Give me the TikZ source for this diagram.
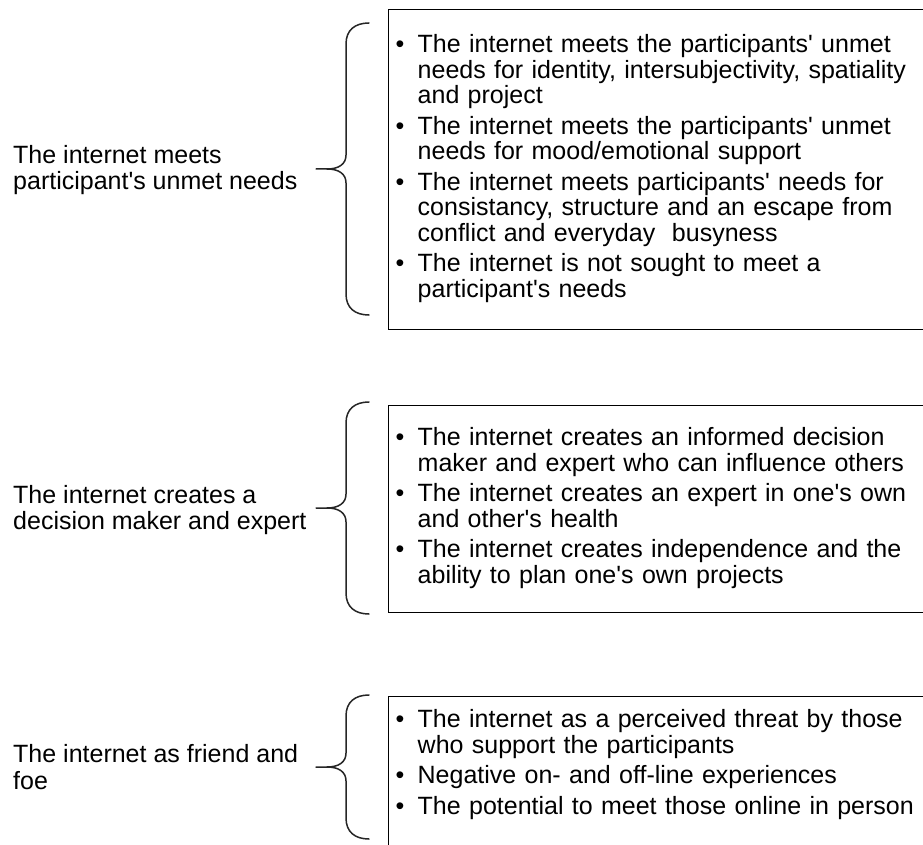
\documentclass[tikz,border=0pt]{standalone}
\usepackage{fontspec}
\setmainfont{Liberation Sans}[Ligatures=TeXOff]
\usepackage{array}

% left-hand curly brace: #1 x of the two ends, #2 top end, #3 bottom end
\newcommand{\curlybrace}[3]{%
  \draw[bracestroke] (#1,#2) .. controls (#1-14,#2) and (#1-23,#2+7) .. (#1-23,#2+21)
    -- (#1-23,{(#2+#3)/2-14}) .. controls (#1-23,{(#2+#3)/2-5}) and (#1-30,{(#2+#3)/2}) .. (#1-42,{(#2+#3)/2})
    -- (#1-53,{(#2+#3)/2});
  \draw[bracestroke] (#1,#3) .. controls (#1-14,#3) and (#1-23,#3-7) .. (#1-23,#3-21)
    -- (#1-23,{(#2+#3)/2+14}) .. controls (#1-23,{(#2+#3)/2+5}) and (#1-30,{(#2+#3)/2}) .. (#1-42,{(#2+#3)/2});
}
\newcommand{\bul}{\textbullet}

\begin{document}
\begin{tikzpicture}[x=1pt, y=-1pt,
    theme/.style={anchor=west, align=left, inner sep=0pt, font=\fontsize{25}{26.5}\selectfont},
    itembox/.style={draw, line width=1.4pt, anchor=north west, inner xsep=7pt, inner ysep=0pt,
      text width=546pt, align=left, font=\fontsize{25}{25.5}\selectfont},
    bracestroke/.style={line width=1.5pt, line cap=round, black!85}]
    \useasboundingbox (0,0) rectangle (923,845);

    % themes
    \node[theme] (needs)  at (13,170) {The internet meets\\participant's unmet needs};
    \node[theme] (expert) at (13,510) {The internet creates a\\decision maker and expert};
    \node[theme] (foe)    at (13,767) {The internet as friend and\\foe};

    % sub-themes
    \node[itembox, minimum height=320pt] (needsbox) at (388,9) {%
      \begin{tabular}{@{}p{22pt}@{}l@{}}
        \bul & The internet meets the participants' unmet\\
             & needs for identity, intersubjectivity, spatiality\\
             & and project\\[4.5pt]
        \bul & The internet meets the participants' unmet\\
             & needs for mood/emotional support\\[4.5pt]
        \bul & The internet meets participants' needs for\\
             & consistancy, structure and an escape from\\
             & conflict and everyday\ \ busyness\\[4.5pt]
        \bul & The internet is not sought to meet a\\
             & participant's needs
      \end{tabular}};
    \node[itembox, minimum height=207pt] (expertbox) at (388,405) {%
      \begin{tabular}{@{}p{22pt}@{}l@{}}
        \bul & The internet creates an informed decision\\
             & maker and expert who can influence others\\[4.5pt]
        \bul & The internet creates an expert in one's own\\
             & and other's health\\[4.5pt]
        \bul & The internet creates independence and the\\
             & ability to plan one's own projects
      \end{tabular}};
    \node[itembox, minimum height=160pt] (foebox) at (388,696) {%
      \begin{tabular}{@{}p{22pt}@{}l@{}}
        \bul & The internet as a perceived threat by those\\
             & who support the participants\\[4.5pt]
        \bul & Negative on- and off-line experiences\\[4.5pt]
        \bul & The potential to meet those online in person\\[22pt]
      \end{tabular}};

    % braces
    \curlybrace{369}{23}{315}
    \curlybrace{369}{402}{614}
    \curlybrace{369}{695}{839}
\end{tikzpicture}
\end{document}
